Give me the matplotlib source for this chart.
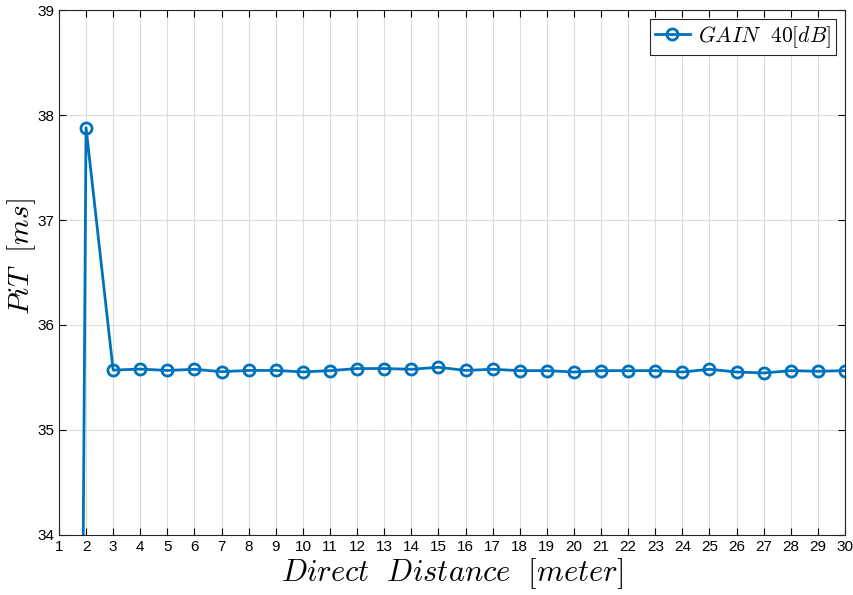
import matplotlib
matplotlib.use("Agg")
import matplotlib.pyplot as plt
import numpy as np

plt.rcParams['font.family'] = ['Liberation Sans', 'DejaVu Sans']
plt.rcParams['mathtext.fontset'] = 'cm'

# direct distance [m] and PiT [ms]
distance = list(range(1, 31))
pit = [0.0, 37.88, 35.57, 35.58, 35.567, 35.578, 35.555, 35.567, 35.567, 35.553,
       35.565, 35.585, 35.585, 35.578, 35.597, 35.567, 35.578, 35.565, 35.565, 35.552,
       35.565, 35.565, 35.565, 35.552, 35.578, 35.552, 35.543, 35.565, 35.559, 35.565]

blue = '#0072BD'

fig = plt.figure(figsize=(8.54, 5.95), dpi=100)
ax = fig.add_axes([0.069, 0.101, 0.9205, 0.882])

ax.plot(distance, pit, color=blue, lw=2, marker='o', ms=8, mfc='none', mew=2,
        label=r'$GAIN\ \ 40[dB]$', clip_on=True)

ax.set_xlim(1, 30)
ax.set_ylim(34, 39)
ax.set_xticks(distance)
ax.set_yticks(range(34, 40))
ax.tick_params(direction='in', labelsize=11, length=5, width=0.8, top=True, right=True)
ax.grid(True, color='#dcdcdc', lw=0.8)
ax.set_axisbelow(True)
for s in ax.spines.values():
    s.set_linewidth(0.8)
    s.set_color('#262626')

ax.set_xlabel(r'$Direct\ \ Distance\ \ [meter]$', fontsize=22, labelpad=2)
ax.set_ylabel(r'$PiT\ \ [ms]$', fontsize=21, labelpad=0)
ax.yaxis.set_label_coords(-0.027, 0.53)

leg = ax.legend(loc='upper right', fontsize=15.5, frameon=True, fancybox=False,
                edgecolor='#262626', framealpha=1, handlelength=1.6,
                handletextpad=0.4, borderpad=0.25, borderaxespad=0.4)
leg.get_frame().set_linewidth(0.8)

fig.savefig('out.png', dpi=100)
